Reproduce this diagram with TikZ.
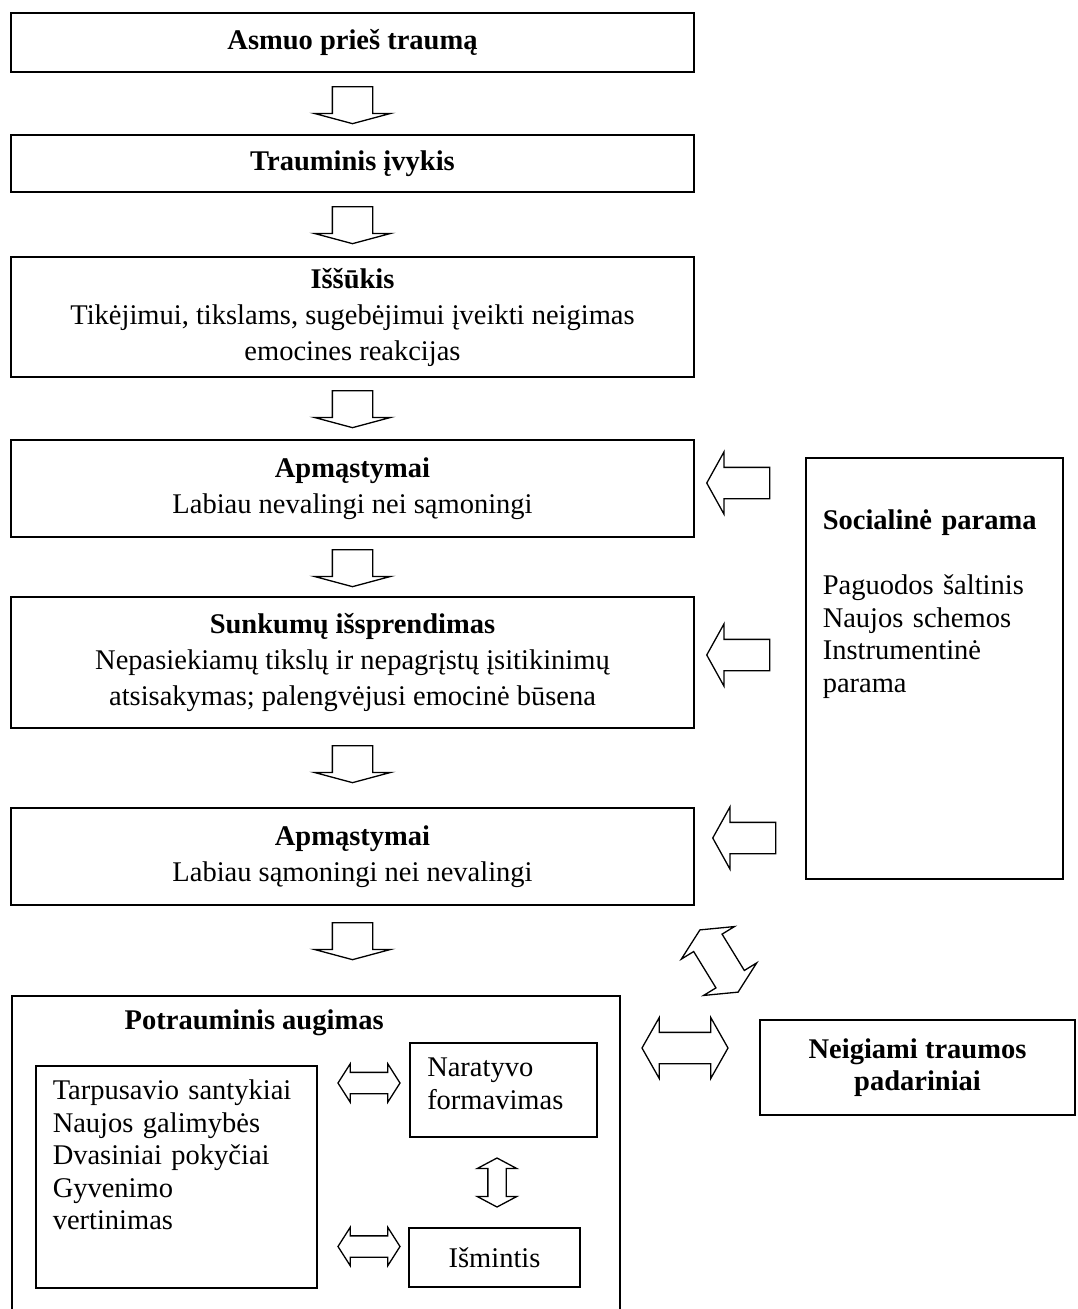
\documentclass[tikz,border=0pt]{standalone}
\usepackage{fontspec}
\setmainfont{Liberation Serif}
\usetikzlibrary{shapes.arrows}

\tikzset{
 box/.style={draw, line width=1.5pt, align=center, inner sep=0pt, minimum width=683pt,
   font=\fontsize{28.5pt}{36pt}\selectfont},
 topbox/.style={draw, line width=1.5pt, align=left, inner ysep=0pt, anchor=north west},
 downarrow/.style={single arrow, draw, line width=1.3pt, rotate=-90, inner xsep=0pt, inner ysep=19.5pt,
   minimum width=75pt, minimum height=37pt, single arrow head extend=18pt,
   single arrow tip angle=150, anchor=tail},
 leftarrow/.style={single arrow, draw, line width=1.3pt, rotate=180, inner xsep=0pt, inner ysep=15pt,
   minimum width=61pt, minimum height=63pt, single arrow head extend=15.5pt,
   single arrow tip angle=122, anchor=tip},
 twoarrow/.style={double arrow, draw, line width=1.3pt, inner xsep=0pt}
}

\begin{document}
\begin{tikzpicture}[x=1pt, y=1pt, font=\fontsize{28.5pt}{32.5pt}\selectfont]
 \useasboundingbox (0,0) rectangle (1077,-1309);

 % main column
 \node[box, minimum height=59pt] (b1) at (352.5,-42.5) {\textbf{Asmuo prieš traumą}};
 \node[box, minimum height=57pt] (b2) at (352.5,-163.5) {\textbf{Trauminis įvykis}};
 \node[box, minimum height=120pt] (b3) at (352.5,-317)
   {\textbf{Iššūkis}\\Tikėjimui, tikslams, sugebėjimui įveikti neigimas\\emocines reakcijas};
 \node[box, minimum height=97pt] (b4) at (352.5,-488.5)
   {\textbf{Apmąstymai}\\Labiau nevalingi nei sąmoningi};
 \node[box, minimum height=131pt] (b5) at (352.5,-662.5)
   {\textbf{Sunkumų išsprendimas}\\Nepasiekiamų tikslų ir nepagrįstų įsitikinimų\\atsisakymas; palengvėjusi emocinė būsena};
 \node[box, minimum height=97pt] (b6) at (352.5,-856.5)
   {\textbf{Apmąstymai}\\Labiau sąmoningi nei nevalingi};

 \node[downarrow] (a1) at (352.5,-86) {};
 \node[downarrow] (a2) at (352.5,-206) {};
 \node[downarrow] (a3) at (352.5,-390) {};
 \node[downarrow] (a4) at (352.5,-549) {};
 \node[downarrow] (a5) at (352.5,-745) {};
 \node[downarrow] (a6) at (352.5,-922) {};

 % social support
 \node[topbox, inner xsep=17pt, text width=223pt, text height=72pt, text depth=349pt] (socbox) at (805,-457)
   {\textbf{Socialinė parama}\\[32.5pt]Paguodos šaltinis\\Naujos schemos\\Instrumentinė\\parama};
 \node[leftarrow] (s4) at (706,-483) {};
 \node[leftarrow] (s5) at (706,-655) {};
 \node[leftarrow] (s6) at (712,-838) {};

 % growth
 \node[draw, line width=1.5pt, inner sep=0pt, minimum width=608pt, minimum height=330pt, anchor=north west] (b7) at (11,-995) {};
 \node[anchor=base west, inner sep=0pt] (potitle) at (124.5,-1029) {\textbf{Potrauminis augimas}};
 \node[topbox, inner xsep=17pt, text width=247pt, text height=34pt, text depth=188pt] (listbox) at (35,-1065)
   {Tarpusavio santykiai\\Naujos galimybės\\Dvasiniai pokyčiai\\Gyvenimo\\vertinimas};
 \node[topbox, inner xsep=17.5pt, text width=152pt, text height=34pt, text depth=60pt] (narbox) at (409,-1042)
   {Naratyvo\\formavimas};
 \node[draw, line width=1.5pt, inner sep=0pt, minimum width=171pt, minimum height=59pt] (ismbox) at (494.5,-1257.5) {Išmintis};

 \node[twoarrow, inner ysep=10pt, minimum height=62pt, minimum width=37pt,
   double arrow head extend=8.5pt, double arrow tip angle=115] (ln) at (369,-1083) {};
 \node[twoarrow, inner ysep=10pt, minimum height=62pt, minimum width=37pt,
   double arrow head extend=8.5pt, double arrow tip angle=115] (li) at (369,-1246.5) {};
 \node[twoarrow, rotate=90, inner ysep=8.5pt, minimum height=49pt, minimum width=38pt,
   double arrow head extend=10.5pt, double arrow tip angle=124] (ni) at (497,-1182.5) {};

 % negative consequences
 \node[draw, line width=1.5pt, inner sep=0pt, align=center, minimum width=315pt, minimum height=95pt] (negbox) at (917.5,-1067.5)
   {\textbf{Neigiami traumos}\\\textbf{padariniai}};
 \node[twoarrow, inner ysep=15pt, minimum height=86pt, minimum width=60pt,
   double arrow head extend=15pt, double arrow tip angle=121] (gn) at (685,-1048) {};
 \node[twoarrow, rotate=-58.5, inner ysep=16pt, minimum height=73pt, minimum width=61pt,
   double arrow head extend=14.5pt, double arrow tip angle=128] (sn) at (719,-961) {};
\end{tikzpicture}
\end{document}
